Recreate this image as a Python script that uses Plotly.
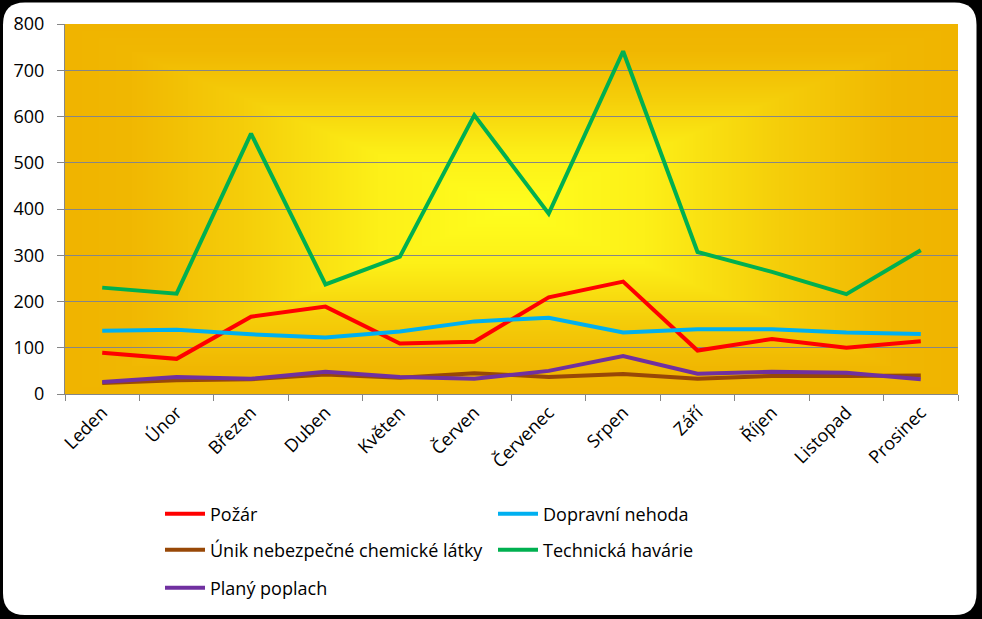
import base64, struct, zlib
import numpy as np
import plotly.graph_objects as go

months = ["Leden", "Únor", "Březen", "Duben", "Květen", "Červen",
          "Červenec", "Srpen", "Září", "Říjen", "Listopad", "Prosinec"]

pozar = [89, 76, 167, 189, 109, 113, 209, 243, 94, 119, 100, 114]
dopravni = [137, 139, 129, 122, 135, 157, 165, 133, 140, 140, 133, 130]
unik = [24, 30, 32, 42, 35, 45, 37, 43, 33, 39, 39, 40]
technicka = [230, 217, 563, 237, 297, 603, 390, 741, 307, 264, 216, 311]
plany = [26, 37, 33, 48, 37, 33, 50, 82, 44, 48, 46, 32]

series = [
    ("Požár", pozar, "#FF0000", "legend"),
    ("Dopravní nehoda", dopravni, "#00B0F0", "legend"),
    ("Únik nebezpečné chemické látky", unik, "#984807", "legend2"),
    ("Technická havárie", technicka, "#00B050", "legend2"),
    ("Planý poplach", plany, "#7030A0", "legend3"),
]

W, H = 982, 619
ML, MR, MT, MB = 65, 24, 24, 225
PW, PH = W - ML - MR, H - MT - MB


def png_uri(arr):
    h, w, _ = arr.shape
    raw = b"".join(b"\x00" + arr[i].tobytes() for i in range(h))

    def chunk(t, d):
        c = struct.pack(">I", len(d)) + t + d
        return c + struct.pack(">I", zlib.crc32(t + d) & 0xFFFFFFFF)

    png = (b"\x89PNG\r\n\x1a\n"
           + chunk(b"IHDR", struct.pack(">IIBBBBB", w, h, 8, 2, 0, 0, 0))
           + chunk(b"IDAT", zlib.compress(raw, 9))
           + chunk(b"IEND", b""))
    return "data:image/png;base64," + base64.b64encode(png).decode()


# rectangular "from centre" gradient for plot background
gx = np.abs(np.linspace(-1, 1, PW))[None, :]
gy = np.abs(np.linspace(-1, 1, PH))[:, None]
t = np.maximum(gx, gy)
stops_t = [0.0, 0.3, 0.6, 0.85, 1.0]
stops_c = [(255, 255, 30), (253, 240, 24), (245, 206, 10), (241, 184, 2), (240, 180, 0)]
img = np.zeros((PH, PW, 3), dtype=np.uint8)
for ch in range(3):
    img[:, :, ch] = np.interp(t, stops_t, [c[ch] for c in stops_c]).astype(np.uint8)
bg_uri = png_uri(img)

fig = go.Figure()
for name, vals, color, lg in series:
    fig.add_trace(go.Scatter(x=months, y=vals, name=name, mode="lines",
                             line=dict(color=color, width=4), legend=lg))


def px(x):
    return (x - ML) / PW


def py(y):
    return (H - MB - y) / PH


# white rounded card
L, T, R, B, r = 3, 2.5, 976.5, 615, 22
path = (f"M{px(L + r)},{py(T)} L{px(R - r)},{py(T)} Q{px(R)},{py(T)} {px(R)},{py(T + r)} "
        f"L{px(R)},{py(B - r)} Q{px(R)},{py(B)} {px(R - r)},{py(B)} "
        f"L{px(L + r)},{py(B)} Q{px(L)},{py(B)} {px(L)},{py(B - r)} "
        f"L{px(L)},{py(T + r)} Q{px(L)},{py(T)} {px(L + r)},{py(T)} Z")
fig.add_shape(type="path", path=path, xref="paper", yref="paper",
              fillcolor="white", line=dict(width=0), layer="below")

fig.add_layout_image(source=bg_uri, xref="x", yref="y", x=-0.5, y=800,
                     sizex=12, sizey=800, sizing="stretch",
                     xanchor="left", yanchor="top", layer="below")

font = dict(family="'Open Sans', Lato, sans-serif", size=18, color="#000000")
grey = "#868686"

legend_common = dict(orientation="h", xref="container", yref="container",
                     xanchor="left", yanchor="middle", entrywidth=278,
                     entrywidthmode="pixels", font=font, itemwidth=40,
                     bgcolor="rgba(0,0,0,0)", itemclick=False)

fig.update_layout(
    width=W, height=H,
    margin=dict(l=ML, r=MR, t=MT, b=MB, autoexpand=False),
    paper_bgcolor="#000000",
    plot_bgcolor="rgba(0,0,0,0)",
    font=font,
    showlegend=True,
    legend=dict(x=160 / W, y=(H - 514) / H, **legend_common),
    legend2=dict(x=160 / W, y=(H - 550) / H, **legend_common),
    legend3=dict(x=160 / W, y=(H - 588) / H, **legend_common),
    xaxis=dict(type="category", range=[-0.5, 11.5], tickangle=-45,
               showline=True, linecolor=grey, linewidth=1,
               ticks="outside", tickson="boundaries", ticklen=6, tickcolor=grey,
               showgrid=False, tickfont=font, automargin=False),
    yaxis=dict(range=[0, 800], dtick=100, showline=True, linecolor=grey,
               linewidth=1, ticks="outside", ticklen=7, tickcolor=grey,
               showgrid=True, gridcolor=grey, gridwidth=1, zeroline=False,
               tickfont=font, ticklabelstandoff=9, automargin=False),
)

fig.write_html("out.html", config={"displayModeBar": False},
               post_script="document.body.style.margin='0';document.body.style.background='#000';")
